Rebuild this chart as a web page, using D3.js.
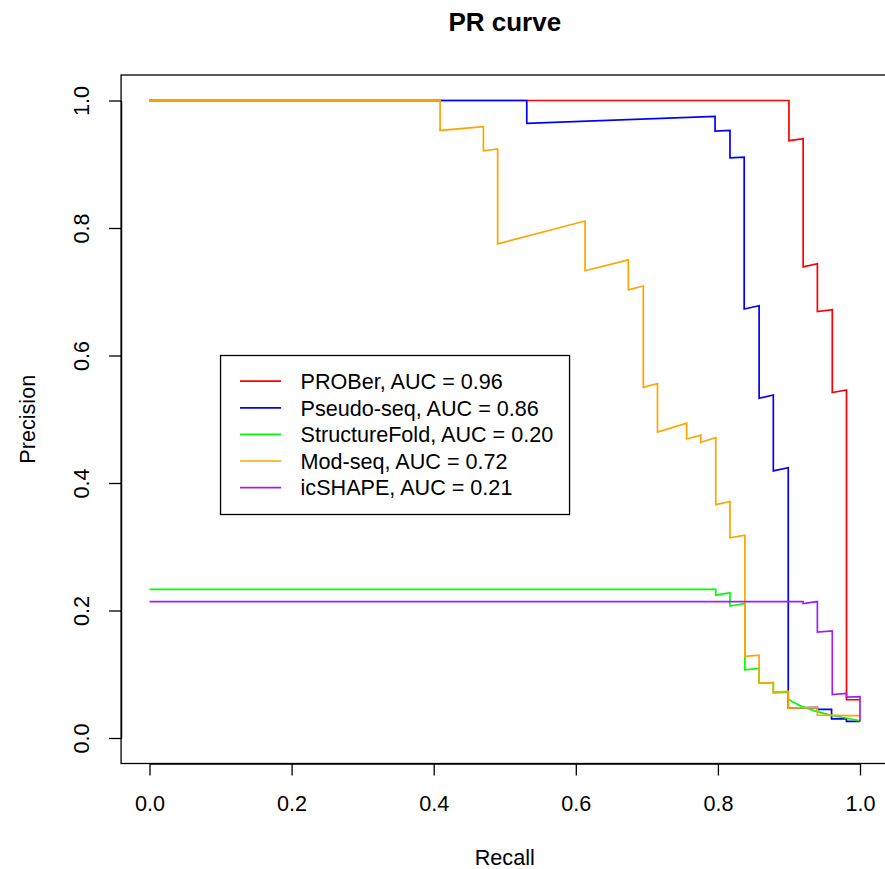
<!DOCTYPE html>
<meta charset="utf-8">
<style>
body { margin: 0; background: #fff; }
svg { font-family: "Liberation Sans", Arial, Helvetica, sans-serif; }
.axis text { font-size: 21.6px; fill: #000; }
.axis path, .axis line { stroke: #000; stroke-width: 1.3px; }
.curve { fill: none; stroke-width: 1.7px; }
</style>
<body>
<script src="https://cdn.jsdelivr.net/npm/d3@7"></script>
<script>
var seriesNames = ["PROBer", "Pseudo-seq", "StructureFold", "Mod-seq", "icSHAPE"];
var aucValues = [0.96, 0.86, 0.20, 0.72, 0.21];
var seriesColors = ["#FF0000", "#0000FF", "#00FF00", "#FFA500", "#A020F0"];
var xTicks = [0, 0.2, 0.4, 0.6, 0.8, 1.0];
var yTicks = [0, 0.2, 0.4, 0.6, 0.8, 1.0];

// [recall, precision]
var prober = [[0,1],[0.900,1],[0.900,0.937],[0.920,0.940],[0.920,0.739],[0.940,0.744],
  [0.940,0.669],[0.961,0.672],[0.961,0.542],[0.981,0.546],[0.981,0.060],[1,0.060]];

var pseudoSeq = [[0,1],[0.531,1],[0.531,0.964],[0.796,0.975],[0.796,0.952],[0.817,0.953],
  [0.817,0.910],[0.837,0.911],[0.837,0.673],[0.858,0.678],[0.858,0.533],[0.878,0.538],
  [0.878,0.419],[0.899,0.424],[0.899,0.047],[0.940,0.048],[0.940,0.045],[0.960,0.045],
  [0.960,0.030],[0.981,0.030],[0.981,0.026],[1,0.026]];

var structureFold = [[0,0.233],[0.797,0.233],[0.797,0.224],[0.817,0.228],[0.817,0.207],
  [0.838,0.211],[0.838,0.107],[0.858,0.109],[0.858,0.086],[0.878,0.087],[0.878,0.071],
  [0.899,0.072],[0.899,0.061],[0.905,0.057],[0.917,0.050],[0.935,0.043],[0.958,0.036],
  [0.982,0.031],[1,0.027]];

var modSeq = [[0,1],[0.409,1],[0.409,0.953],[0.470,0.959],[0.470,0.921],[0.490,0.924],
  [0.490,0.775],[0.613,0.811],[0.613,0.733],[0.674,0.750],[0.674,0.703],[0.695,0.709],
  [0.695,0.550],[0.715,0.556],[0.715,0.480],[0.756,0.494],[0.756,0.469],[0.776,0.475],
  [0.776,0.464],[0.797,0.471],[0.797,0.366],[0.817,0.371],[0.817,0.314],[0.838,0.318],
  [0.838,0.128],[0.858,0.130],[0.858,0.086],[0.878,0.087],[0.878,0.072],[0.899,0.073],
  [0.899,0.047],[0.940,0.048],[0.940,0.036],[0.981,0.035],[1,0.035]];

var icShape = [[0,0.214],[0.920,0.214],[0.920,0.211],[0.940,0.214],[0.940,0.166],
  [0.961,0.168],[0.961,0.068],[0.981,0.070],[0.981,0.064],[1,0.065],[1,0.026]];

var curves = [prober, pseudoSeq, structureFold, modSeq, icShape];

var width = 885, height = 869;

var x = d3.scaleLinear().domain([0, 1]).range([149.5, 860]);
var y = d3.scaleLinear().domain([0, 1]).range([738, 100.5]);

var svg = d3.select("body").append("svg")
    .attr("width", width)
    .attr("height", height);

// plot box (R extends range by 4%)
var boxL = x(-0.04), boxR = x(1.04), boxT = y(1.04), boxB = y(-0.04);
svg.append("rect")
    .attr("x", boxL).attr("y", boxT)
    .attr("width", boxR - boxL).attr("height", boxB - boxT)
    .attr("fill", "none").attr("stroke", "#000").attr("stroke-width", 1.3);

var line = d3.line()
    .x(function(d) { return x(d[0]); })
    .y(function(d) { return y(d[1]); });

svg.append("g").selectAll("path")
    .data(curves)
  .enter().append("path")
    .attr("class", "curve")
    .attr("stroke", function(d, i) { return seriesColors[i]; })
    .attr("d", line);

// x axis
var xAxis = svg.append("g")
    .attr("class", "axis")
    .attr("transform", "translate(0," + boxB + ")")
    .call(d3.axisBottom(x).tickValues(xTicks).tickFormat(d3.format(".1f"))
      .tickSize(12).tickSizeOuter(0).tickPadding(20));
xAxis.selectAll("text").attr("font-family", null);
xAxis.attr("font-family", null).attr("font-size", null);

// y axis
var yAxis = svg.append("g")
    .attr("class", "axis")
    .attr("transform", "translate(" + boxL + ",0)")
    .call(d3.axisLeft(y).tickValues(yTicks).tickFormat(d3.format(".1f"))
      .tickSize(12).tickSizeOuter(0));
yAxis.attr("font-family", null).attr("font-size", null);
yAxis.selectAll("text")
    .attr("x", 0).attr("y", 0).attr("dy", null)
    .attr("text-anchor", "middle")
    .attr("transform", "translate(-32.5,0) rotate(-90)");

// titles
svg.append("text")
    .attr("x", (boxL + boxR) / 2).attr("y", 31)
    .attr("text-anchor", "middle")
    .attr("font-size", "26px").attr("font-weight", "bold")
    .text("PR curve");

svg.append("text")
    .attr("x", (boxL + boxR) / 2).attr("y", 865)
    .attr("text-anchor", "middle")
    .attr("font-size", "21.6px")
    .text("Recall");

svg.append("text")
    .attr("transform", "translate(35," + ((boxT + boxB) / 2) + ") rotate(-90)")
    .attr("text-anchor", "middle")
    .attr("font-size", "21.6px")
    .text("Precision");

// legend, top-left at (0.1, 0.6) in data units
var lx = x(0.1), ly = y(0.6);
var rowH = 26.6;
var legend = svg.append("g").attr("transform", "translate(" + lx + "," + ly + ")");
legend.append("rect")
    .attr("width", 349).attr("height", 159)
    .attr("fill", "#fff").attr("stroke", "#000").attr("stroke-width", 1.3);
var rows = legend.selectAll(".row")
    .data(seriesNames)
  .enter().append("g")
    .attr("class", "row")
    .attr("transform", function(d, i) { return "translate(0," + (25.7 + i * rowH) + ")"; });
rows.append("line")
    .attr("x1", 19.5).attr("x2", 60.5)
    .attr("stroke", function(d, i) { return seriesColors[i]; })
    .attr("stroke-width", 1.7);
rows.append("text")
    .attr("x", 80).attr("y", 7.8)
    .attr("font-size", "21.6px")
    .text(function(d, i) { return d + ", AUC = " + aucValues[i].toFixed(2); });
</script>
